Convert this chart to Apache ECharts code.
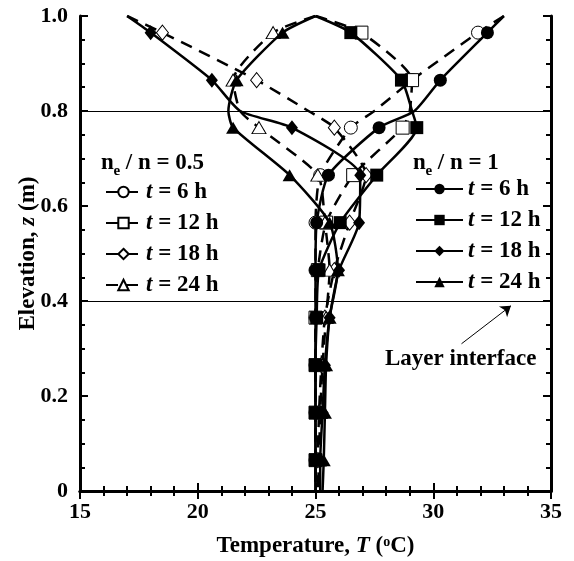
<!DOCTYPE html>
<html>
<head>
<meta charset="utf-8">
<script src="https://cdn.jsdelivr.net/npm/echarts@6/dist/echarts.min.js"></script>
<style>
html, body { margin: 0; padding: 0; background: #fff; }
#chart { width: 574px; height: 561px; }
</style>
</head>
<body>
<div id="chart"></div>
<script>
// elevations along each profile (m); markers everywhere except surface, interface kink and bottom
var zPath = [1.0, 0.965, 0.865, 0.8, 0.765, 0.665, 0.565, 0.465, 0.365, 0.265, 0.165, 0.065, 0];
var noMarker = [1.0, 0.8, 0];

// ne / n = 1 -> solid lines, filled markers
var full6 = [33.0, 32.3, 30.3, 29.2, 27.7, 25.55, 25.05, 25.0, 25.0, 25.0, 25.0, 25.0, 25.0];
var full12 = [25.0, 26.5, 28.65, 29.1, 29.3, 27.6, 26.05, 25.15, 25.05, 25.0, 25.0, 25.0, 25.0];
var full18 = [17.0, 18.0, 20.6, 21.8, 24.0, 26.9, 26.85, 26.0, 25.6, 25.4, 25.3, 25.2, 25.2];
var full24 = [25.0, 23.6, 21.65, 21.3, 21.5, 23.9, 25.6, 25.95, 25.6, 25.45, 25.4, 25.35, 25.3];

// ne / n = 0.5 -> dashed lines, open markers
var half6 = [33.0, 31.9, 29.1, 27.5, 26.5, 25.2, 25.0, 25.0, 25.0, 25.0, 25.0, 25.0, 25.0];
var half12 = [25.0, 26.95, 29.1, 29.0, 28.7, 26.6, 25.45, 25.1, 25.0, 25.0, 25.0, 25.0, 25.0];
var half18 = [17.0, 18.5, 22.5, 24.7, 25.8, 27.15, 26.45, 25.8, 25.4, 25.25, 25.15, 25.1, 25.1];
var half24 = [25.0, 23.2, 21.5, 21.8, 22.6, 25.1, 25.4, 25.6, 25.45, 25.3, 25.2, 25.15, 25.1];

var hours = ['6', '12', '18', '24'];
var symbols = ['circle', 'rect', 'diamond', 'triangle'];
var symbolSizes = [13, 13, [12, 15], [14, 12]];

var interfaces = [0.8, 0.4];
var arrowFrom = [31.2, 0.31];
var arrowTo = [33.3, 0.39];

var FONT = 'Liberation Serif';

function profile(name, temps, k, dashed) {
    var data = zPath.map(function (z, i) {
        var item = { value: [temps[i], z] };
        if (noMarker.indexOf(z) >= 0) item.symbol = 'none';
        return item;
    });
    return {
        name: name,
        type: 'line',
        data: data,
        smooth: 0.2,
        symbol: symbols[k],
        symbolSize: symbolSizes[k],
        z: dashed ? 2 : 3,
        lineStyle: { color: '#000', width: 2.5, type: dashed ? [12, 8] : 'solid' },
        itemStyle: dashed
            ? { color: '#fff', borderColor: '#000', borderWidth: 1 }
            : { color: '#000', borderColor: '#000', borderWidth: 0 },
        emphasis: { disabled: true }
    };
}

var halfSets = [half6, half12, half18, half24];
var fullSets = [full6, full12, full18, full24];
var series = [];
var halfNames = [], fullNames = [];
for (var k = 0; k < 4; k++) {
    halfNames.push('0.5|' + hours[k]);
    series.push(profile('0.5|' + hours[k], halfSets[k], k, true));
}
for (var k = 0; k < 4; k++) {
    fullNames.push('1|' + hours[k]);
    series.push(profile('1|' + hours[k], fullSets[k], k, false));
}

// layer interfaces + arrow
series.push({
    type: 'line',
    data: [],
    silent: true,
    markLine: {
        silent: true,
        symbol: 'none',
        label: { show: false },
        lineStyle: { color: '#000', width: 1, type: 'solid' },
        data: interfaces.map(function (v) { return { yAxis: v }; })
    }
});
series.push({
    type: 'line',
    data: [],
    silent: true,
    markLine: {
        silent: true,
        symbol: ['none', 'arrow'],
        symbolSize: 10,
        label: { show: false },
        lineStyle: { color: '#000', width: 1, type: 'solid' },
        data: [[{ coord: arrowFrom }, { coord: arrowTo }]]
    }
});

var legendRich = {
    i: { fontFamily: FONT, fontSize: 23, fontWeight: 'bold', fontStyle: 'italic', color: '#000' },
    r: { fontFamily: FONT, fontSize: 23, fontWeight: 'bold', color: '#000' }
};
function legendText(name) {
    return '{i|t}{r| = ' + name.split('|')[1] + ' h}';
}

var tickStyle = { show: true, inside: true, length: 8, lineStyle: { color: '#000', width: 2 } };
var minorStyle = { show: true, length: 5, lineStyle: { color: '#000', width: 2 } };
var lineStyle = { show: true, lineStyle: { color: '#000', width: 3 } };

function header(x, ratio) {
    return [
        { type: 'text', left: x, top: 152, style: { text: 'n', font: 'bold 23px ' + FONT, fill: '#000' } },
        { type: 'text', left: x + 12.5, top: 164, style: { text: 'e', font: 'bold 15px ' + FONT, fill: '#000' } },
        { type: 'text', left: x + 19, top: 152, style: { text: ' / n = ' + ratio, font: 'bold 23px ' + FONT, fill: '#000' } }
    ];
}

var chart = echarts.init(document.getElementById('chart'));
chart.setOption({
    animation: false,
    backgroundColor: '#fff',
    grid: { left: 80, right: 23, top: 16, bottom: 70, outerBoundsMode: 'none' },
    xAxis: [{
        type: 'value', min: 15, max: 35, interval: 5,
        axisLine: lineStyle, axisTick: tickStyle,
        minorTick: Object.assign({ splitNumber: 5 }, minorStyle),
        splitLine: { show: false },
        axisLabel: { margin: 10, fontFamily: FONT, fontSize: 22, fontWeight: 'bold', color: '#000' },
        name: '{b|Temperature, }{i|T}{b| (}{s|o}{b|C)}',
        nameLocation: 'middle', nameGap: 44, nameMoveOverlap: false,
        nameTextStyle: {
            rich: {
                b: { fontFamily: FONT, fontSize: 23, fontWeight: 'bold', color: '#000' },
                i: { fontFamily: FONT, fontSize: 23, fontWeight: 'bold', fontStyle: 'italic', color: '#000' },
                s: { fontFamily: FONT, fontSize: 14, fontWeight: 'bold', color: '#000', verticalAlign: 'top' }
            }
        }
    }, {
        type: 'value', position: 'top', min: 15, max: 35, interval: 5,
        axisLine: lineStyle, axisTick: tickStyle,
        minorTick: Object.assign({ splitNumber: 5 }, minorStyle),
        splitLine: { show: false }, axisLabel: { show: false }
    }],
    yAxis: [{
        type: 'value', min: 0, max: 1, interval: 0.2,
        axisLine: lineStyle, axisTick: tickStyle,
        minorTick: Object.assign({ splitNumber: 4 }, minorStyle),
        splitLine: { show: false },
        axisLabel: {
            margin: 12, fontFamily: FONT, fontSize: 22, fontWeight: 'bold', color: '#000',
            formatter: function (v) { return v === 0 ? '0' : v.toFixed(1); }
        },
        name: '{b|Elevation, }{i|z}{b| (m)}',
        nameLocation: 'middle', nameGap: 40, nameMoveOverlap: false,
        nameTextStyle: {
            rich: {
                b: { fontFamily: FONT, fontSize: 23, fontWeight: 'bold', color: '#000' },
                i: { fontFamily: FONT, fontSize: 23, fontWeight: 'bold', fontStyle: 'italic', color: '#000' }
            }
        }
    }, {
        type: 'value', position: 'right', min: 0, max: 1, interval: 0.2,
        axisLine: lineStyle, axisTick: tickStyle,
        minorTick: Object.assign({ splitNumber: 4 }, minorStyle),
        splitLine: { show: false }, axisLabel: { show: false }
    }],
    legend: [{
        data: halfNames, orient: 'vertical', left: 100, top: 174,
        itemWidth: 35, itemHeight: 13, itemGap: 5, selectedMode: false,
        formatter: legendText,
        textStyle: { lineHeight: 26, rich: legendRich }
    }, {
        data: fullNames, orient: 'vertical', left: 410, top: 171,
        itemWidth: 47, itemHeight: 13, itemGap: 5, selectedMode: false,
        formatter: legendText,
        textStyle: { lineHeight: 26, rich: legendRich }
    }],
    graphic: header(101, '0.5').concat(header(413, '1')).concat([{
        type: 'text', left: 385, top: 348,
        style: { text: 'Layer interface', font: 'bold 23px ' + FONT, fill: '#000' }
    }]),
    series: series
});
</script>
</body>
</html>
